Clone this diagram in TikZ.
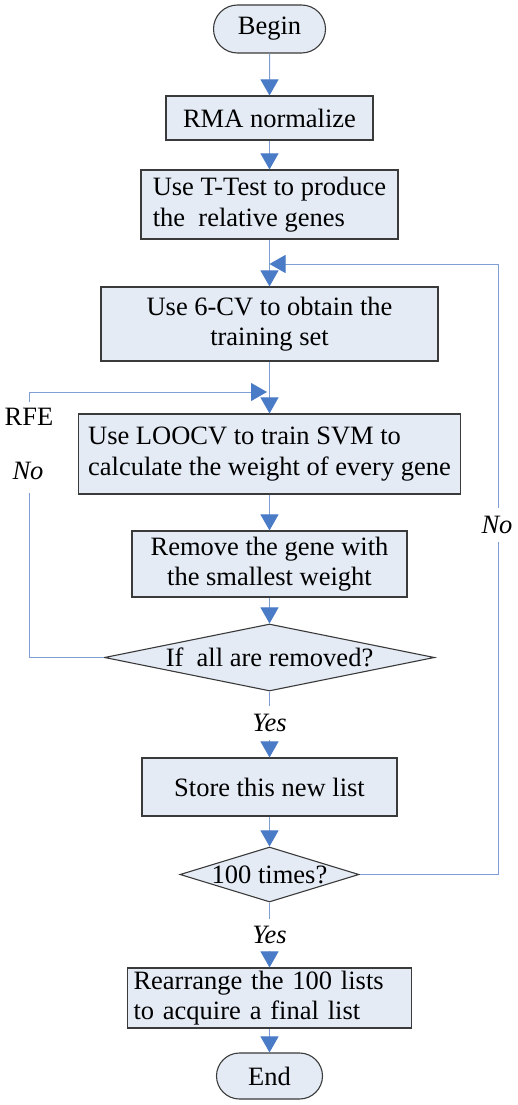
\documentclass[tikz,border=0pt]{standalone}
\usepackage{fontspec}
\setmainfont{Liberation Serif}
\usetikzlibrary{shapes.geometric,shapes.misc,arrows.meta}
\definecolor{boxfill}{HTML}{E4EBF5}
\definecolor{boxdraw}{HTML}{3A3A3A}
\definecolor{linkc}{HTML}{7F9ED2}
\definecolor{tipc}{HTML}{4A7BC6}
\begin{document}
\begin{tikzpicture}[x=1pt,y=-1pt,
  every node/.style={font=\fontsize{26.5}{30.5}\selectfont},
  proc/.style={draw=boxdraw, fill=boxfill, line width=1.1pt, inner sep=0pt},
  term/.style={proc, rounded rectangle},
  dec/.style={proc, diamond},
  link/.style={draw=linkc, line width=1pt},
  arr/.style={link, -{Triangle[length=16pt,width=18pt,color=tipc]}},
  lab/.style={fill=white, inner sep=0pt, font=\fontsize{26.5}{30.5}\selectfont\itshape}]
\fill[white] (0,0) rectangle (518,1105);
\useasboundingbox (0,0) rectangle (518,1105);

\node[term, minimum width=112pt, minimum height=48pt] (begin) at (269.5,29) {Begin};
\node[proc, minimum width=207pt, minimum height=44pt] (rma) at (269.5,118) {RMA normalize};
\node[proc, minimum width=257pt, minimum height=69pt, align=left] (ttest) at (269.5,204.5) {Use T-Test to produce\\the\ \ relative genes};
\node[proc, minimum width=337pt, minimum height=74pt, align=center] (cv) at (269.5,324) {Use 6-CV to obtain the\\training set};
\node[proc, minimum width=382pt, minimum height=80pt, align=left] (loocv) at (269.5,454) {Use LOOCV to train SVM to\\calculate the weight of every gene};
\node[proc, minimum width=275pt, minimum height=66pt, align=center] (remove) at (269.5,564) {Remove the gene with\\the smallest weight};
\node[dec, minimum width=330pt, minimum height=67pt] (allrem) at (269.5,657.5) {\makebox[0pt]{If\ \ all are removed?}};
\node[proc, minimum width=255pt, minimum height=58pt] (store) at (269.5,787) {Store this new list};
\node[dec, minimum width=179pt, minimum height=55pt] (times) at (269.5,874.5) {\makebox[0pt]{100 times?}};
\node[proc, text width=272pt, inner xsep=6pt, minimum height=60pt, align=left] (rearr) at (269.5,998) {Rearrange the 100 lists\\to acquire a final list};
\node[term, minimum width=106pt, minimum height=46pt] (end) at (269.5,1076) {End};

\draw[arr] (begin) -- (rma);
\draw[arr] (rma) -- (ttest);
\draw[arr] (ttest) -- (cv);
\draw[arr] (cv) -- (loocv);
\draw[arr] (loocv) -- (remove);
\draw[arr] (remove) -- (allrem);
\draw[arr] (allrem) -- (store);
\draw[arr] (store) -- (times);
\draw[arr] (times) -- (rearr);
\draw[arr] (rearr) -- (end);

% outer loop
\coordinate (j1) at (269.5,264);
\coordinate (rtop) at (498,264);
\draw[arr] (times.east) -| (rtop) -- (j1);

% RFE loop
\coordinate (lbot) at (29,493);
\coordinate (ltop) at (29,402);
\coordinate (lcorner) at (29,392);
\coordinate (j2) at (267,392);
\draw[link] (allrem.west) -| (lbot);
\draw[arr] (ltop) -- (lcorner) -- (j2);

\node (rfe) at (29,417) {RFE};
\node[lab] (no1) at (28,471) {No};
\node[lab, minimum height=34pt] (no2) at (497,525) {No};
\node[lab, minimum height=34pt] (yes1) at (269.5,723) {Yes};
\node[lab, minimum height=32pt] (yes2) at (269.5,935) {Yes};
\end{tikzpicture}
\end{document}
